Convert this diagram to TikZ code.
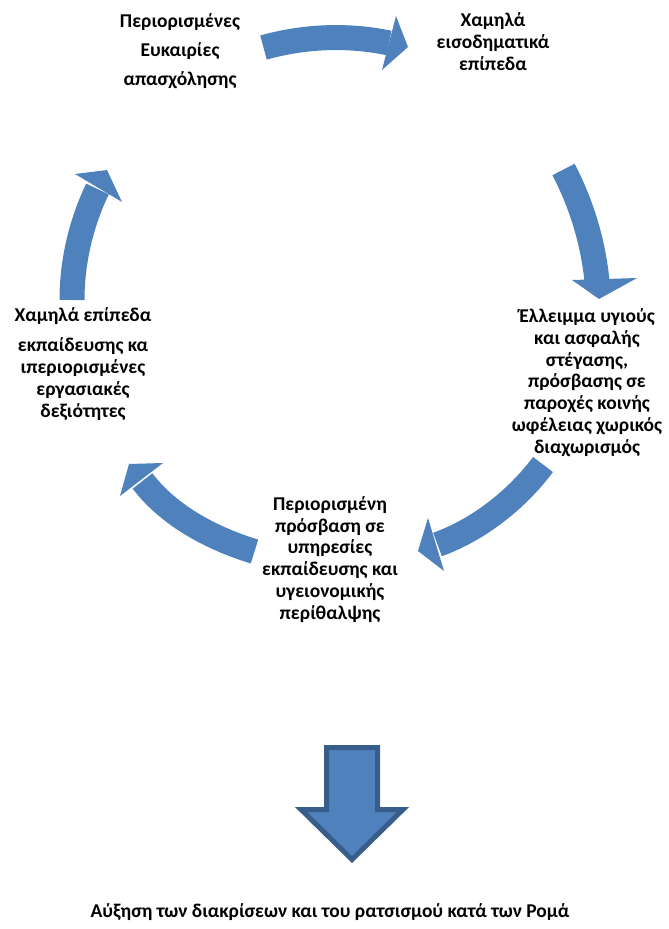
\documentclass[tikz,border=0pt]{standalone}
\usepackage{fontspec}
\setmainfont{Carlito}
\definecolor{blueA}{HTML}{4F81BD}
\definecolor{blueB}{HTML}{385D8A}
\begin{document}
\begin{tikzpicture}[x=1pt,y=-1pt,
  txt/.style={font=\bfseries\fontsize{19.5}{21.7}\selectfont, align=center, inner sep=0pt, anchor=base},
  shaft/.style={draw=blueA, line width=25pt, line cap=butt},
  head/.style={fill=blueA},
  bigarrow/.style={fill=blueA, draw=blueB, line width=5pt, line join=miter}]
\useasboundingbox (0,0) rectangle (669,929);

% text nodes (positioned at the baseline of their last line)
\node[txt] (n1) at (180,85) {Περιορισμένες\\[7pt]Ευκαιρίες\\[7pt]απασχόλησης};
\node[txt] (n2) at (493,70) {Χαμηλά\\εισοδηματικά\\επίπεδα};
\node[txt] (n3) at (587,453) {Έλλειμμα υγιούς\\και ασφαλής\\στέγασης,\\πρόσβασης σε\\παροχές κοινής\\ωφέλειας χωρικός\\διαχωρισμός};
\node[txt] (n4) at (330,619) {Περιορισμένη\\πρόσβαση σε\\υπηρεσίες\\εκπαίδευσης και\\υγειονομικής\\περίθαλψης};
\node[txt] (n5) at (83,417) {Χαμηλά επίπεδα\\[8.5pt]εκπαίδευσης κα\\ιπεριορισμένες\\εργασιακές\\δεξιότητες};
\node[txt] (n6) at (330,917) {Αύξηση των διακρίσεων και του ρατσισμού κατά των Ρομά};

% arrow 1 (top)
\coordinate (a1t) at (263.5,47.5);
\coordinate (a1b) at (389,43);
\draw[shaft] (a1t) .. controls (304,36.2) and (348,34.3) .. (a1b);
\fill[head] (396,16) -- (408,47) -- (382,70) -- cycle;

% arrow 2 (right)
\coordinate (a2t) at (563.5,169.5);
\coordinate (a2b) at (597,281);
\draw[shaft] (a2t) .. controls (581.6,204.1) and (593.1,242.2) .. (a2b);
\fill[head] (572,280) -- (599,299) -- (637,278) -- cycle;

% arrow 3 (lower right)
\coordinate (a3t) at (543,464.5);
\coordinate (a3b) at (437.5,544.5);
\draw[shaft] (a3t) .. controls (516.6,499.7) and (478.9,529.5) .. (a3b);
\fill[head] (428,518) -- (418,551) -- (444,571) -- cycle;

% arrow 4 (lower left)
\coordinate (a4t) at (254.5,551.5);
\coordinate (a4b) at (142.5,481);
\draw[shaft] (a4t) .. controls (212.3,538.7) and (169.2,516) .. (a4b);
\fill[head] (163,463) -- (129,464) -- (120,496) -- cycle;

% arrow 5 (left)
\coordinate (a5t) at (72,300);
\coordinate (a5b) at (97.5,189);
\draw[shaft] (a5t) .. controls (72,262) and (81,223.2) .. (a5b);
\fill[head] (75,174) -- (107,170) -- (122,202) -- cycle;

% big down arrow
\draw[bigarrow] (326.5,747.5) -- (377.5,747.5) -- (377.5,809.5) -- (403,809.5)
  -- (352,859.5) -- (301,809.5) -- (326.5,809.5) -- cycle;
\end{tikzpicture}
\end{document}
